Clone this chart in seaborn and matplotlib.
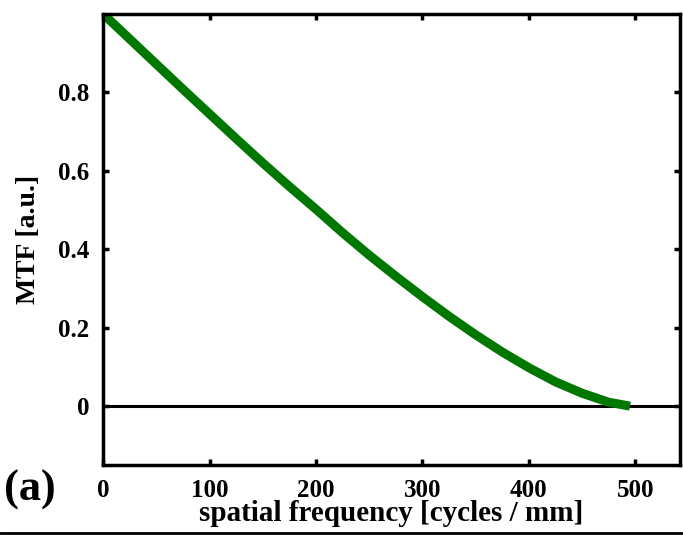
import numpy as np
import pandas as pd
import matplotlib
matplotlib.use("Agg")
import matplotlib.pyplot as plt
from matplotlib.lines import Line2D
import seaborn as sns


# values
freq = [0, 25, 50, 75, 100, 125, 150, 175, 200, 225, 250, 275, 300,
        325, 350, 375, 400, 425, 450, 475, 495]
mtf = [1.0, 0.936, 0.872, 0.808, 0.745, 0.682, 0.620, 0.560, 0.502, 0.442,
       0.385, 0.331, 0.279, 0.229, 0.182, 0.138, 0.098, 0.062, 0.033, 0.010, 0.0]

x_ticks = [0, 100, 200, 300, 400, 500]
y_ticks = [0, 0.2, 0.4, 0.6, 0.8]
y_tick_labels = ["0", "0.2", "0.4", "0.6", "0.8"]

df = pd.DataFrame({"freq": freq, "mtf": mtf})

sns.set_style("ticks")
plt.rcParams["font.family"] = ["Liberation Serif", "DejaVu Serif"]
plt.rcParams["font.weight"] = "bold"
plt.rcParams["text.color"] = "black"
plt.rcParams["axes.labelcolor"] = "black"
plt.rcParams["xtick.color"] = "black"
plt.rcParams["ytick.color"] = "black"

fig = plt.figure(figsize=(6.83, 5.36), dpi=100)
ax = fig.add_axes([0.151, 0.1325, 0.8446, 0.8415])

sns.lineplot(data=df, x="freq", y="mtf", ax=ax, color="#007800",
             linewidth=6.5, solid_capstyle="butt")
ax.axhline(0, color="black", linewidth=2.2, zorder=1)

ax.set_xlim(0, 542)
ax.set_ylim(-0.15, 1.0)
ax.set_xticks(x_ticks)
ax.set_xticklabels([str(t) for t in x_ticks])
ax.set_yticks(y_ticks)
ax.set_yticklabels(y_tick_labels)

ax.tick_params(direction="in", length=4, width=2.5, top=True, right=True,
               labelsize=18, pad=10, labelcolor="black")
for lab in ax.get_xticklabels() + ax.get_yticklabels():
    lab.set_fontweight("bold")

for side in ["left", "right", "top", "bottom"]:
    ax.spines[side].set_visible(True)
    ax.spines[side].set_linewidth(2.5)
    ax.spines[side].set_color("black")

ax.set_xlabel("spatial frequency [cycles / mm]", fontsize=21, fontweight="bold",
              labelpad=-1)
ax.set_ylabel("MTF [a.u.]", fontsize=20, fontweight="bold", labelpad=12)

fig.text(0.006, 0.048, "(a)", fontsize=32, fontweight="bold", ha="left",
         va="bottom")

# rule across the bottom of the figure
fig.add_artist(Line2D([0, 1], [0.006, 0.006], color="black", linewidth=2,
                      transform=fig.transFigure))

fig.savefig("out.png", dpi=100)
